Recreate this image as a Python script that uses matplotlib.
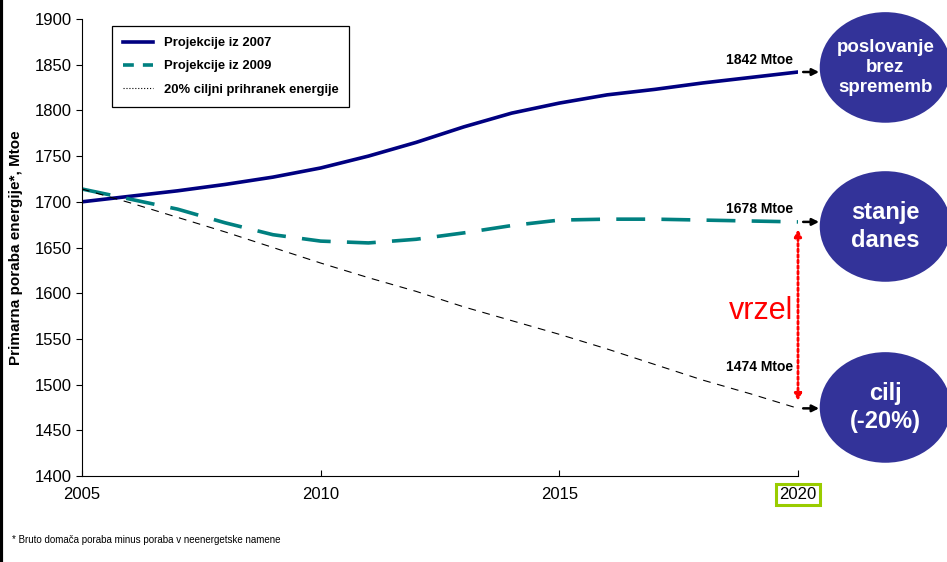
import matplotlib
matplotlib.use('Agg')
import matplotlib.pyplot as plt
from matplotlib.patches import Ellipse
from matplotlib.lines import Line2D

plt.rcParams['font.family'] = ['Liberation Sans', 'DejaVu Sans']

# podatki odcitani s slike
leta = list(range(2005, 2021))
proj_2007 = [1700, 1706, 1712, 1719, 1727, 1737, 1750, 1765, 1782, 1797,
             1808, 1817, 1823, 1830, 1836, 1842]
proj_2009 = [1714, 1703, 1692, 1677, 1664, 1657, 1655, 1659, 1666, 1674,
             1680, 1681, 1681, 1680, 1679, 1678]
cilj_20 = [1714, 1699, 1683, 1667, 1650, 1633, 1617, 1602, 1585, 1570,
           1555, 1539, 1522, 1505, 1490, 1474]
x_ticks = [2005, 2010, 2015, 2020]
y_ticks = list(range(1400, 1901, 50))
oznake = ['1842 Mtoe', '1678 Mtoe', '1474 Mtoe']
oznake_y = [1848, 1684, 1512]
krogi = ['poslovanje\nbrez\nsprememb', 'stanje\ndanes', 'cilj\n(-20%)']
krogi_y = [1847, 1673, 1475]

fig = plt.figure(figsize=(9.47, 5.62), dpi=100)
ax = fig.add_axes([82/947, 86/562, 716/947, 457/562])

ax.plot(leta, proj_2007, color='#000080', lw=2.6, label='Projekcije iz 2007')
ax.plot(leta, proj_2009, color='#008080', lw=2.6, dashes=(8, 4.5),
        label='Projekcije iz 2009')
ax.plot(leta, cilj_20, color='black', lw=0.8, dashes=(7, 6))

ax.set_xlim(2005, 2020)
ax.set_ylim(1400, 1900)
ax.set_xticks(x_ticks)
ax.set_yticks(y_ticks)
ax.tick_params(axis='both', labelsize=12, length=4, direction='out')
ax.tick_params(axis='x', pad=8, direction='in')
ax.spines['top'].set_visible(False)
ax.spines['right'].set_visible(False)
ax.set_ylabel('Primarna poraba energije*, Mtoe', fontsize=11, fontweight='bold',
              labelpad=8)

# zelen okvir okoli 2020
for lbl in ax.get_xticklabels():
    if lbl.get_text() == '2020':
        lbl.set_bbox(dict(facecolor='white', edgecolor='#99cc00', lw=2.2, pad=2.3))

handles = [Line2D([], [], color='#000080', lw=2.6),
           Line2D([], [], color='#008080', lw=2.6, dashes=(3, 2.5)),
           Line2D([], [], color='black', lw=0.8, linestyle=':')]
labels = ['Projekcije iz 2007', 'Projekcije iz 2009', '20% ciljni prihranek energije']
leg = ax.legend(handles, labels, loc='upper left', bbox_to_anchor=(0.042, 0.985),
                borderaxespad=0, prop={'weight': 'bold', 'size': 9.4}, fancybox=False,
                edgecolor='black', framealpha=1, handlelength=2.3,
                borderpad=0.85, labelspacing=0.85)
leg.get_frame().set_linewidth(0.9)

# oznake vrednosti in puscice do krogov
konci = [proj_2007[-1], proj_2009[-1], cilj_20[-1]]
for val, txt, ty, ky, kt in zip(konci, oznake, oznake_y, krogi_y, krogi):
    ax.text(2019.9, ty, txt, ha='right', va='bottom', fontsize=10,
            fontweight='bold')
    ax.annotate('', xy=(2020.5, val), xytext=(2020.05, val),
                arrowprops=dict(arrowstyle='-|>', color='black', lw=1.8,
                                mutation_scale=10), annotation_clip=False)
    ax.add_patch(Ellipse((2021.83, ky), 2.75, 121, facecolor='#333399',
                         edgecolor='none', clip_on=False))
    if len(kt.split('\n')) == 3:
        fs, ls = 13.5, 1.2
    else:
        fs, ls = 17, 1.25
    ax.text(2021.83, ky, kt, ha='center', va='center', color='white',
            fontsize=fs, fontweight='bold', linespacing=ls, clip_on=False)

# vrzel
ax.annotate('', xy=(2020, cilj_20[-1] + 5), xytext=(2020, proj_2009[-1] - 5),
            arrowprops=dict(arrowstyle='<|-|>', color='red', lw=2,
                            linestyle=(0, (1, 1)), mutation_scale=10),
            annotation_clip=False)
ax.text(2019.9, 1580, 'vrzel', color='red', fontsize=22, ha='right', va='center')

fig.text(12/947, 1 - 540/562, '* Bruto domača poraba minus poraba v neenergetske namene',
         fontsize=7, va='center')
fig.add_artist(Line2D([0.001, 0.001], [0, 1], color='black', lw=3,
                      transform=fig.transFigure))

fig.savefig('out.png', dpi=100)
